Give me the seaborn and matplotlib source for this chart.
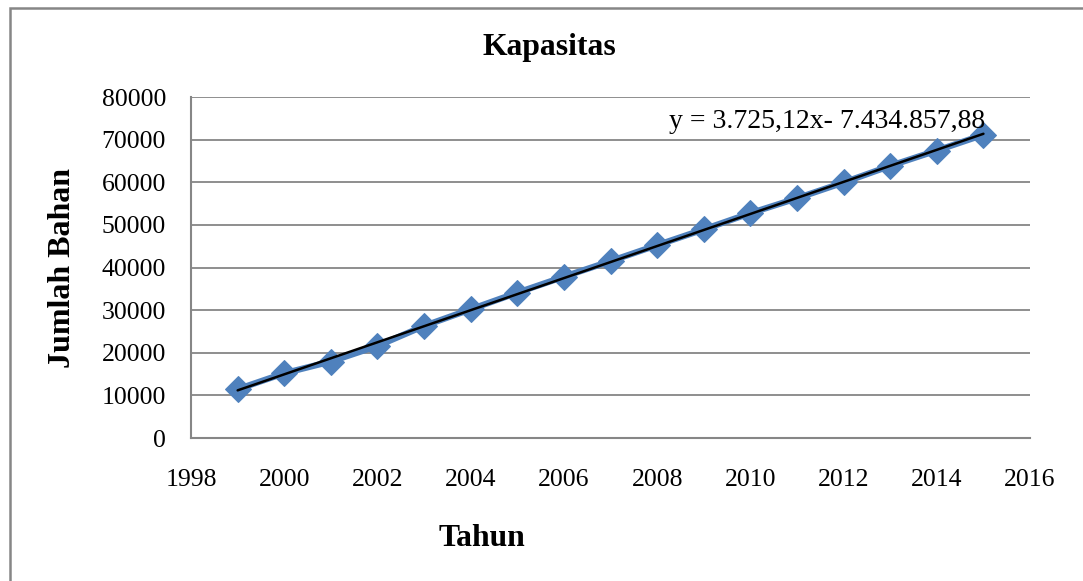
import numpy as np
import pandas as pd
import matplotlib
matplotlib.use('Agg')
import matplotlib.pyplot as plt
import seaborn as sns
from matplotlib.patches import Rectangle

# data
tahun = [1999, 2000, 2001, 2002, 2003, 2004, 2005, 2006, 2007,
         2008, 2009, 2010, 2011, 2012, 2013, 2014, 2015]
jumlah = [11450, 15200, 17950, 21600, 26300, 30200, 34100, 37850, 41500,
          45250, 48950, 52750, 56250, 59950, 63850, 67450, 71150]
y_ticks = [0, 10000, 20000, 30000, 40000, 50000, 60000, 70000, 80000]
x_ticks = [1998, 2000, 2002, 2004, 2006, 2008, 2010, 2012, 2014, 2016]
equation = 'y = 3.725,12x- 7.434.857,88'

df = pd.DataFrame({'Tahun': tahun, 'Jumlah': jumlah})

sns.set_style('white')
plt.rcParams['font.family'] = ['Liberation Serif', 'DejaVu Serif']
plt.rcParams['text.color'] = 'black'
plt.rcParams['xtick.color'] = 'black'
plt.rcParams['ytick.color'] = 'black'

BLUE = '#4F81BD'
GRID = '#868686'
FS = 18.5

fig = plt.figure(figsize=(10.83, 5.81), dpi=100)
ax = fig.add_axes([0.1764, 0.2461, 0.7747, 0.5869])

# outer chart frame (Excel style)
fig.patches.append(Rectangle((10 / 1083, -0.05), 1.2, 1 - 8 / 581 + 0.05,
                             transform=fig.transFigure, fill=False,
                             edgecolor=GRID, linewidth=1.8, zorder=0))

sns.lineplot(data=df, x='Tahun', y='Jumlah', ax=ax, color=BLUE, linewidth=4.5,
             marker='D', markersize=13, markeredgecolor=BLUE, zorder=3)
sns.regplot(data=df, x='Tahun', y='Jumlah', ax=ax, scatter=False, ci=None,
            line_kws={'color': 'black', 'linewidth': 1.8, 'zorder': 4})

ax.set_xlim(1998, 2016)
ax.set_ylim(0, 80000)
ax.set_xticks(x_ticks)
ax.set_yticks(y_ticks)
ax.tick_params(axis='x', length=0, pad=22, labelsize=FS)
ax.tick_params(axis='y', length=0, pad=18, labelsize=FS)
ax.yaxis.grid(True, color=GRID, linewidth=1.3)
ax.xaxis.grid(False)
for side in ['top', 'right']:
    ax.spines[side].set_visible(False)
for side in ['left', 'bottom']:
    ax.spines[side].set_color(GRID)
    ax.spines[side].set_linewidth(1.5)
ax.set_xlabel('')
ax.set_ylabel('')

ax.text(0.5697, 0.9296, equation, transform=ax.transAxes, fontsize=20,
        ha='left', va='center')

fig.text(549 / 1083, 1 - 48 / 581, 'Kapasitas', fontsize=22.8,
         fontweight='bold', ha='center', va='center')
fig.text(482 / 1083, 1 - 538 / 581, 'Tahun', fontsize=22.8,
         fontweight='bold', ha='center', va='center')
fig.text(63 / 1083, 1 - 268 / 581, 'Jumlah Bahan', fontsize=23,
         fontweight='bold', ha='center', va='center', rotation=90)

fig.savefig('out.png', dpi=100)
